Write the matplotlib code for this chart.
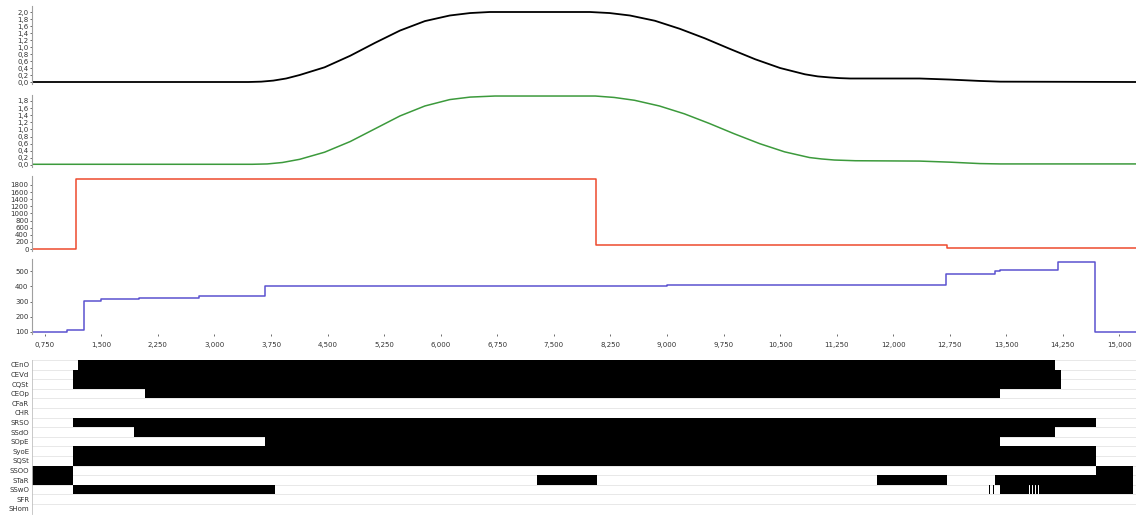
import numpy as np
import matplotlib
matplotlib.use("Agg")
import matplotlib.pyplot as plt

W_PX, H_PX = 1136, 515
DPI = 100

# ---- data (x in seconds) ----
X_LEFT, X_RIGHT = 0.58, 15.22

ref_x = [0.58, 3.45, 3.62, 3.78, 3.95, 4.13, 4.46, 4.80, 5.13, 5.46, 5.79, 6.12,
         6.39, 6.65, 7.98, 8.24, 8.51, 8.84, 9.17, 9.50, 9.83, 10.17, 10.50,
         10.83, 11.00, 11.16, 11.30, 11.43, 12.35, 12.75, 13.15, 13.42, 15.22]
ref_y = [0.0, 0.0, 0.01, 0.04, 0.10, 0.20, 0.42, 0.75, 1.12, 1.47, 1.74, 1.90,
         1.97, 2.0, 2.0, 1.97, 1.90, 1.75, 1.52, 1.25, 0.95, 0.65, 0.40,
         0.22, 0.16, 0.13, 0.11, 0.10, 0.10, 0.07, 0.03, 0.01, 0.0]

meas_x = [0.58, 3.50, 3.70, 3.90, 4.13, 4.46, 4.80, 5.13, 5.46, 5.79, 6.12,
          6.39, 6.72, 8.05, 8.30, 8.57, 8.90, 9.23, 9.56, 9.89, 10.23, 10.56,
          10.89, 11.05, 11.22, 11.50, 12.35, 12.75, 13.15, 13.42, 15.22]
meas_y = [0.02, 0.02, 0.03, 0.07, 0.16, 0.36, 0.66, 1.02, 1.38, 1.66, 1.84,
          1.91, 1.94, 1.94, 1.90, 1.82, 1.66, 1.44, 1.17, 0.88, 0.60, 0.37,
          0.21, 0.17, 0.14, 0.12, 0.11, 0.08, 0.04, 0.03, 0.03]

cmd_x = [0.58, 1.17, 8.06, 12.71, 15.22]
cmd_y = [0, 1960, 110, 20, 20]

spd_x = [0.58, 1.05, 1.27, 1.50, 2.00, 2.80, 3.40, 3.67, 6.00, 9.00, 12.70,
         13.35, 13.42, 14.18, 14.67, 15.22]
spd_y = [100, 112, 305, 315, 325, 335, 340, 400, 404, 407, 480,
         500, 508, 560, 100, 100]

sig_names = ["CEnO", "CEVd", "CQSt", "CEOp", "CFaR", "CHR", "SRSO", "SSdO",
             "SOpE", "SyoE", "SQSt", "SSOO", "STaR", "SSwO", "SFR", "SHom"]
sig_on = [
    [(1.19, 14.15)],
    [(1.12, 14.22)],
    [(1.12, 14.22)],
    [(2.08, 13.42)],
    [],
    [],
    [(1.12, 14.69)],
    [(1.93, 14.15)],
    [(3.67, 13.42)],
    [(1.12, 14.69)],
    [(1.12, 14.69)],
    [(0.58, 1.12), (14.69, 15.18)],
    [(0.58, 1.12), (7.275, 8.07), (11.78, 12.71), (13.35, 15.18)],
    [(1.12, 3.80), (13.27, 13.29), (13.32, 13.34), (13.42, 13.80),
     (13.815, 13.84), (13.855, 13.88), (13.895, 13.92), (13.935, 15.18)],
    [],
    [],
]

x_ticks = [0.75 * k for k in range(1, 21)]


def comma(v, nd):
    return f"{v:.{nd}f}".replace(".", ",")


fig = plt.figure(figsize=(W_PX / DPI, H_PX / DPI), dpi=DPI)
L = 32 / W_PX
WD = (W_PX - 32) / W_PX


def add_panel(top, bot):
    return fig.add_axes([L, 1 - bot / H_PX, WD, (bot - top) / H_PX])


def set_ylim_px(ax, top, bot, v1, p1, v0, p0):
    ppu = (p0 - p1) / (v1 - v0)
    ax.set_ylim(v0 - (bot - p0) / ppu, v1 + (p1 - top) / ppu)


def style(ax):
    for s in ("top", "right", "bottom"):
        ax.spines[s].set_visible(False)
    ax.spines["left"].set_color("#a0a0a0")
    ax.spines["left"].set_linewidth(0.8)
    ax.tick_params(axis="y", length=1.5, width=0.5, pad=1, labelsize=5,
                   colors="#333333")
    ax.set_xlim(X_LEFT, X_RIGHT)
    ax.set_xticks([])


# panel 1 - reference
ax1 = add_panel(6, 84)
ax1.plot(ref_x, ref_y, color="black", lw=1.3)
set_ylim_px(ax1, 6, 84, 2.0, 12, 0.0, 82)
yt = [0.2 * k for k in range(11)]
ax1.set_yticks(yt, [comma(v, 1) for v in yt])
style(ax1)

# panel 2 - measured
ax2 = add_panel(95, 167)
ax2.plot(meas_x, meas_y, color="#3c9a3c", lw=1.1)
set_ylim_px(ax2, 95, 167, 1.8, 101, 0.0, 165)
yt = [0.2 * k for k in range(10)]
ax2.set_yticks(yt, [comma(v, 1) for v in yt])
style(ax2)

# panel 3 - command
ax3 = add_panel(176, 251)
ax3.step(cmd_x, cmd_y, where="post", color="#ee4a2e", lw=1.1)
set_ylim_px(ax3, 176, 251, 1800, 185, 0, 249)
yt = list(range(0, 2000, 200))
ax3.set_yticks(yt, [str(v) for v in yt])
style(ax3)

# panel 4 - speed
ax4 = add_panel(259, 334)
ax4.step(spd_x, spd_y, where="post", color="#5b52d0", lw=1.1)
set_ylim_px(ax4, 259, 334, 500, 271.3, 100, 332)
yt = list(range(100, 600, 100))
ax4.set_yticks(yt, [str(v) for v in yt])
style(ax4)
ax4.set_xticks(x_ticks, [comma(v, 3) for v in x_ticks])
ax4.tick_params(axis="x", length=1.5, width=0.5, pad=4, labelsize=5,
                colors="#333333")

# panel 5 - digital signals (last row runs past the bottom edge)
n = len(sig_names)
row_px = 9.6
ax5 = add_panel(360, 360 + n * row_px)
for i, ivs in enumerate(sig_on):
    if ivs:
        ax5.broken_barh([(a, b - a) for a, b in ivs], (i, 1),
                        facecolor="black", edgecolor="none")
for i in range(n + 1):
    ax5.axhline(i, color="#e4e4e4", lw=0.6, zorder=0)
ax5.set_ylim(n, 0)
ax5.set_xlim(X_LEFT, X_RIGHT)
ax5.set_yticks([i + 0.5 for i in range(n)], sig_names)
ax5.set_xticks([])
for s in ("top", "right", "bottom"):
    ax5.spines[s].set_visible(False)
ax5.spines["left"].set_color("#c0c0c0")
ax5.spines["left"].set_linewidth(0.6)
ax5.tick_params(axis="y", length=0, pad=2, labelsize=5, colors="#333333")

fig.savefig("out.png", dpi=DPI)
